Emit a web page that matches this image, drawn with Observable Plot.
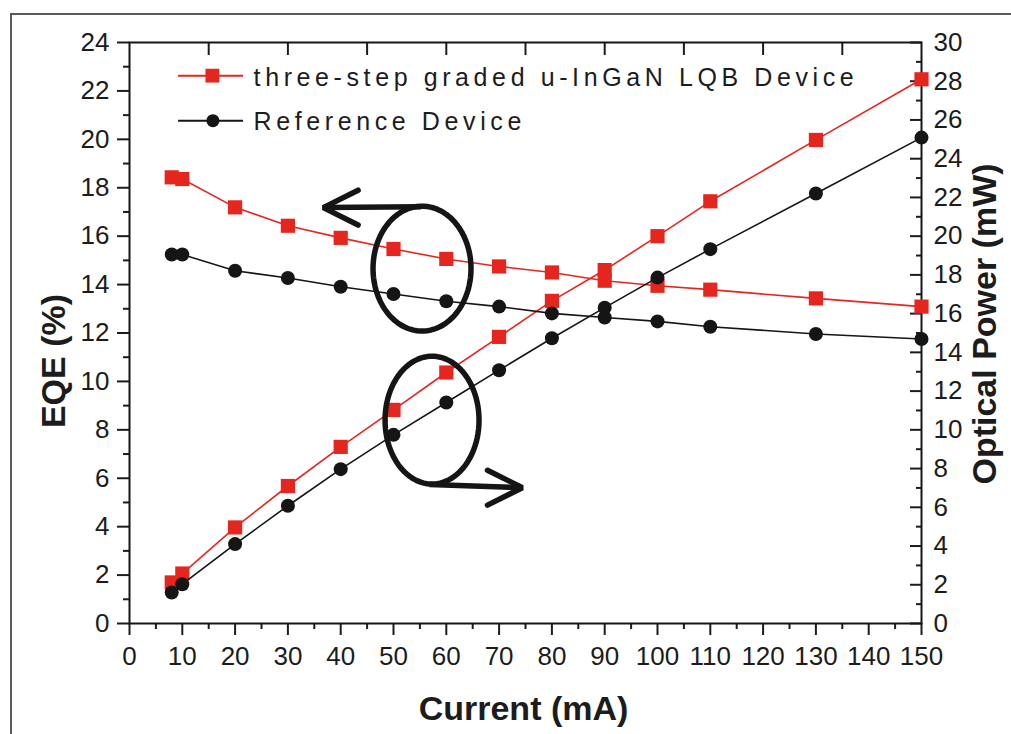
<!DOCTYPE html>
<html><head><meta charset="utf-8">
<script src="https://cdn.jsdelivr.net/npm/d3@7"></script>
<script src="https://cdn.jsdelivr.net/npm/@observablehq/plot@0.6"></script>
<style>
html,body{margin:0;padding:0;background:#fff;overflow:hidden}
#wrap{position:relative;width:1011px;height:734px}
#border{position:absolute;left:10px;top:13px;width:1030px;height:760px;border:2px solid #5a5a5a;box-sizing:border-box;pointer-events:none}
</style></head><body><div id="wrap"><div id="chart"></div><div id="border"></div></div>
<script>
// ---- data ----
const current   = [8,10,20,30,40,50,60,70,80,90,100,110,130,150];
const eqeLQB    = [18.43,18.36,17.19,16.43,15.93,15.47,15.06,14.75,14.50,14.16,13.95,13.79,13.43,13.09];
const eqeRef    = [15.24,15.24,14.57,14.27,13.91,13.61,13.31,13.09,12.81,12.64,12.48,12.26,11.96,11.75];
const powerLQB  = [2.12,2.58,4.96,7.10,9.12,11.03,12.96,14.80,16.66,18.25,20.00,21.80,24.97,28.10];
const powerRef  = [1.60,2.03,4.10,6.08,7.97,9.74,11.41,13.08,14.73,16.31,17.86,19.33,22.20,25.09];
const seriesNames = ["three-step graded u-InGaN LQB Device", "Reference Device"];
const xTicks      = [0,10,20,30,40,50,60,70,80,90,100,110,120,130,140,150];
const xMinorTicks = [5,15,25,35,45,55,65,75,85,95,105,115,125,135,145];
const topTicks    = [15,30,45,60,75,90,105,120,135];
const eqeTicks    = [0,2,4,6,8,10,12,14,16,18,20,22,24];
const eqeMinor    = [1,3,5,7,9,11,13,15,17,19,21,23];
const powerTicks  = [0,2,4,6,8,10,12,14,16,18,20,22,24,26,28,30];
const powerMinor  = [1,3,5,7,9,11,13,15,17,19,21,23,25,27,29];

const EQE_MAX = 24, P_MAX = 30, k = EQE_MAX / P_MAX; // right axis mapped onto left scale
const RED = "#e5261f", BLACK = "#151515";
const FONT = "Liberation Sans, Arial, Helvetica, sans-serif";

const rows = (ys, scale = 1) => current.map((x, i) => ({x, y: ys[i] * scale}));
const lqbEqe = rows(eqeLQB), refEqe = rows(eqeRef);
const lqbPow = rows(powerLQB, k), refPow = rows(powerRef, k);

// annotation geometry (data units)
const ellipseSpec = [{cx:55.4, cy:14.66, rx:9.28, ry:2.58}, {cx:57.3, cy:8.40, rx:8.9, ry:2.64}];
const ellipsePts = ellipseSpec.map(e => d3.range(0, 361, 4).map(a => ({
  x: e.cx + e.rx * Math.cos(a * Math.PI / 180),
  y: e.cy + e.ry * Math.sin(a * Math.PI / 180)})));
const arrows = [
  {x1:55.2, y1:17.22, x2:36.7, y2:17.18, dir:+1},
  {x1:56.8, y1:5.74, x2:74.4, y2:5.61, dir:-1}
];
const headDx = 6.6, headDy = 0.72;
const heads = arrows.map(a => [
  {x: a.x2 + a.dir*headDx, y: a.y2 + headDy},
  {x: a.x2, y: a.y2},
  {x: a.x2 + a.dir*headDx, y: a.y2 - headDy}]);

const blank = () => "";
const axisCommon = {strokeWidth: 2, label: null, fontSize: 26, fill: "#1c1c1c"};

const marks = [
  // axes: left (outward ticks)
  Plot.axisY({...axisCommon, anchor:"left", ticks: eqeTicks, tickSize: 12, tickPadding: 8}),
  Plot.axisY({...axisCommon, anchor:"left", ticks: eqeMinor, tickSize: 6, tickFormat: blank}),
  // right (inward ticks, labels outside)
  Plot.axisY({...axisCommon, anchor:"right", ticks: powerTicks.map(p => p*k), tickSize: 12, dx: -12, tickFormat: blank}),
  Plot.axisY({...axisCommon, anchor:"right", ticks: powerMinor.map(p => p*k), tickSize: 6, dx: -6, tickFormat: blank}),
  Plot.axisY({...axisCommon, anchor:"right", ticks: powerTicks.map(p => p*k), tickSize: 0, tickPadding: 12,
              tickFormat: d => String(Math.round(d / k))}),
  // bottom (outward)
  Plot.axisX({...axisCommon, anchor:"bottom", ticks: xTicks, tickSize: 12, tickPadding: 11}),
  Plot.axisX({...axisCommon, anchor:"bottom", ticks: xMinorTicks, tickSize: 6, tickFormat: blank}),
  // top (inward)
  Plot.axisX({...axisCommon, anchor:"top", ticks: topTicks, tickSize: 12, dy: 12, tickFormat: blank}),
  Plot.frame({stroke: BLACK, strokeWidth: 2}),

  // data: red first
  Plot.line(lqbEqe, {x:"x", y:"y", stroke: RED, strokeWidth: 1.6}),
  Plot.line(lqbPow, {x:"x", y:"y", stroke: RED, strokeWidth: 1.6}),
  Plot.dot(lqbEqe, {x:"x", y:"y", symbol:"square", r: 8, fill: RED, stroke: "none"}),
  Plot.dot(lqbPow, {x:"x", y:"y", symbol:"square", r: 8, fill: RED, stroke: "none"}),
  Plot.line(refEqe, {x:"x", y:"y", stroke: BLACK, strokeWidth: 1.6}),
  Plot.line(refPow, {x:"x", y:"y", stroke: BLACK, strokeWidth: 1.6}),
  Plot.dot(refEqe, {x:"x", y:"y", r: 7, fill: BLACK, stroke: "none"}),
  Plot.dot(refPow, {x:"x", y:"y", r: 7, fill: BLACK, stroke: "none"}),

  // annotations: ellipses and arrows
  ...ellipsePts.map(pts => Plot.line(pts, {x:"x", y:"y", stroke: BLACK, strokeWidth: 5.5})),
  Plot.link(arrows, {x1:"x1", y1:"y1", x2:"x2", y2:"y2", stroke: BLACK, strokeWidth: 5.5}),
  ...heads.map(h => Plot.line(h, {x:"x", y:"y", stroke: BLACK, strokeWidth: 5.5, strokeLinejoin: "miter"})),

  // legend (inside the frame, data units)
  Plot.ruleY([22.63], {x1: 9.3, x2: 21.6, stroke: RED, strokeWidth: 2}),
  Plot.dot([{x:15.7, y:22.63}], {x:"x", y:"y", symbol:"square", r: 7.8, fill: RED}),
  Plot.ruleY([20.77], {x1: 9.3, x2: 21.6, stroke: BLACK, strokeWidth: 2}),
  Plot.dot([{x:15.8, y:20.77}], {x:"x", y:"y", r: 6.5, fill: BLACK}),
  Plot.text([seriesNames[0]], {x: 23.5, y: 22.63, text: d => d, textAnchor: "start", lineAnchor: "middle", dy: 2, fontSize: 25, fill: "#1c1c1c"}),
  Plot.text([seriesNames[1]], {x: 23.5, y: 20.77, text: d => d, textAnchor: "start", lineAnchor: "middle", dy: 1, fontSize: 25, fill: "#1c1c1c"}),

  // axis titles
  Plot.text(["EQE (%)"], {frameAnchor: "left", text: d => d, rotate: -90, textAnchor: "middle", dx: -75, dy: 28, fontSize: 34, fontWeight: "bold", fill: "#1c1c1c"}),
  Plot.text(["Optical Power (mW)"], {frameAnchor: "right", text: d => d, rotate: -90, textAnchor: "middle", dx: 64, dy: -9, fontSize: 34, fontWeight: "bold", fill: "#1c1c1c"}),
  Plot.text(["Current (mA)"], {frameAnchor: "bottom", text: d => d, textAnchor: "middle", dx: -2, dy: 96, fontSize: 34, fontWeight: "bold", fill: "#1c1c1c"})
];

const svg = Plot.plot({
  width: 1011, height: 734,
  marginLeft: 129, marginRight: 90, marginTop: 42, marginBottom: 111,
  x: {domain: [0, 150], label: null},
  y: {domain: [0, EQE_MAX], label: null},
  style: {fontFamily: FONT, fontSize: "26px", color: "#1c1c1c", background: "transparent", overflow: "visible"},
  marks
});
d3.select(svg).selectAll("text")
  .filter(function() { return seriesNames.includes(this.textContent); })
  .style("letter-spacing", "4.6px");
document.getElementById("chart").appendChild(svg);
</script></body></html>
